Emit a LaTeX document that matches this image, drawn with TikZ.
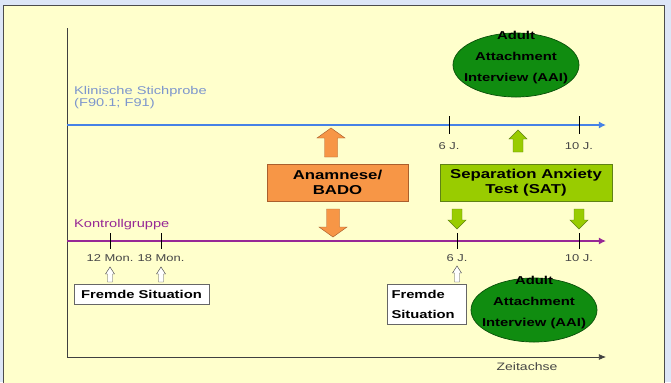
\documentclass[tikz,border=0pt]{standalone}
\usepackage{fontspec}
\setmainfont[FakeStretch=1.3]{Liberation Sans}
\usetikzlibrary{positioning,shapes.geometric,arrows.meta}

\definecolor{pageblue}{RGB}{221,230,247}
\definecolor{paper}{RGB}{255,255,204}
\definecolor{klinik}{RGB}{70,130,230}
\definecolor{klinikText}{RGB}{125,150,205}
\definecolor{kontroll}{RGB}{150,40,150}
\definecolor{orangeFill}{RGB}{247,150,70}
\definecolor{orangeLine}{RGB}{170,95,45}
\definecolor{limeFill}{RGB}{153,204,0}
\definecolor{limeLine}{RGB}{95,130,20}
\definecolor{aaiFill}{RGB}{16,140,16}
\definecolor{aaiLine}{RGB}{10,80,10}
\definecolor{tickText}{RGB}{70,70,70}

\tikzset{
	box/.style = {draw=#1, line width=0.6pt, align=center, inner sep=0pt,
		font=\fontsize{11}{12.75}\selectfont\bfseries},
	aai/.style = {ellipse, fill=aaiFill, draw=aaiLine, line width=0.6pt,
		minimum width=3.78cm, minimum height=1.92cm, inner sep=0pt},
	aaitext/.style = {align=center, inner sep=0pt,
		font=\fontsize{9.75}{17.9}\selectfont\bfseries},
	ticklabel/.style = {text=tickText, font=\fontsize{8.5}{9}\selectfont, inner sep=0pt},
	grouplabel/.style = {anchor=base west, inner sep=0pt, align=left,
		font=\fontsize{9.6}{10.2}\selectfont},
	timeline/.style = {line width=1.2pt, -{Latex[length=6pt,width=6pt]}},
}

% block arrow: x, tail y, tip y, shaft half, head half, head length, style
\newcommand{\blockarrow}[7]{
	\filldraw[#7] (#1-#4,#2) -- (#1-#4,#3+#6) -- (#1-#5,#3+#6) -- (#1,#3)
		-- (#1+#5,#3+#6) -- (#1+#4,#3+#6) -- (#1+#4,#2) -- cycle;
}

\begin{document}
\begin{tikzpicture}[x=0.03cm, y=-0.03cm]
		\fill[pageblue] (0,0) rectangle (671,382);
		\useasboundingbox (0,0) rectangle (671,382);
		\fill[paper] (3,5) rectangle (664,384);
		\draw[black!70, line width=0.8pt] (3,384) -- (3,5) -- (664,5) -- (664,384);
		
		% axes
		\coordinate (origin) at (67,357);
		\coordinate (top) at (67,28);
		\coordinate (tEnd) at (606,357);
		\draw[black!75, line width=0.6pt] (top) -- (origin);
		\draw[black!75, line width=0.6pt, -{Latex[length=6pt,width=5pt]}] (origin) -- (tEnd);
		\node[ticklabel, font=\fontsize{9.2}{10}\selectfont] (zeit) at (527,367) {Zeitachse};
		
		% Klinische Stichprobe
		\coordinate (kStart) at (67,125);
		\coordinate (kEnd) at (606,125);
		\draw[timeline, klinik] (kStart) -- (kEnd);
		\node[grouplabel, text=klinikText] (klinikLabel) at (74,106)
			{Klinische Stichprobe\\(F90.1; F91)};
		\draw (449,116) -- (449,134);
		\draw (579,116) -- (579,134);
		\node[ticklabel] (k6) at (449,146) {6 J.};
		\node[ticklabel] (k10) at (579,146) {10 J.};
		
		% Kontrollgruppe
		\coordinate (cStart) at (67,241);
		\coordinate (cEnd) at (606,241);
		\draw[timeline, kontroll] (cStart) -- (cEnd);
		\node[grouplabel, text=kontroll] (kontrollLabel) at (74,227) {Kontrollgruppe};
		\draw (110,233) -- (110,249);
		\draw (161,233) -- (161,249);
		\draw (457,233) -- (457,249);
		\draw (579,233) -- (579,249);
		\node[ticklabel] (c12) at (110,258) {12 Mon.};
		\node[ticklabel] (c18) at (161,258) {18 Mon.};
		\node[ticklabel] (c6) at (457,258) {6 J.};
		\node[ticklabel] (c10) at (579,258) {10 J.};
		
		% boxes
		\node[box=orangeLine, fill=orangeFill, minimum width=4.23cm, minimum height=1.11cm]
			(anamnese) at (337.5,182.5) {Anamnese/\\BADO};
		\node[box=limeLine, fill=limeFill, minimum width=5.16cm, minimum height=1.11cm]
			(sat) at (526,182.5) {Separation Anxiety\\Test (SAT)};
		\node[box=black!60, fill=white, minimum width=4.05cm, minimum height=0.6cm,
			font=\fontsize{9.7}{12}\selectfont\bfseries]
			(fremde1) at (141.5,294) {Fremde Situation};
		\node[box=black!60, fill=white, minimum width=2.37cm, minimum height=1.2cm,
			align=left, text width=2.1cm, font=\fontsize{9.7}{17}\selectfont\bfseries]
			(fremde2) at (426.5,304) {Fremde\\Situation};
		
		\node[aai] (aaiTop) at (516,65) {};
		\node[aaitext] at ([yshift=0.21cm]aaiTop.center) {Adult\\Attachment\\Interview (AAI)};
		\node[aai] (aaiBottom) at (534,310) {};
		\node[aaitext] at ([yshift=0.21cm]aaiBottom.center) {Adult\\Attachment\\Interview (AAI)};
		
		% block arrows
		\blockarrow{331}{157}{128}{6.5}{14}{10}{fill=orangeFill, draw=orangeLine}
		\blockarrow{333}{209}{237}{6.5}{14}{-10}{fill=orangeFill, draw=orangeLine}
		\blockarrow{518}{152}{130}{5}{9}{9}{fill=limeFill, draw=limeLine}
		\blockarrow{457}{209}{229}{5}{9}{-9}{fill=limeFill, draw=limeLine}
		\blockarrow{579}{209}{229}{5}{9}{-9}{fill=limeFill, draw=limeLine}
		\blockarrow{110}{282}{267}{2.5}{4.5}{7}{fill=white, draw=black!70}
		\blockarrow{161}{282}{267}{2.5}{4.5}{7}{fill=white, draw=black!70}
		\blockarrow{457}{282}{266}{2.5}{4.5}{7}{fill=white, draw=black!70}
		
\end{tikzpicture}
\end{document}
